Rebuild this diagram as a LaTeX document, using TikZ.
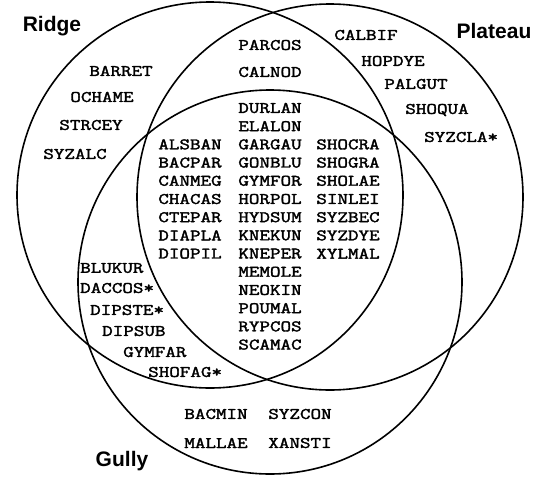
\documentclass[tikz,border=0pt]{standalone}
\usepackage{fontspec}
\setmainfont{Liberation Sans}
\newfontfamily\courf{Latin Modern Mono}[FakeStretch=1.28,FakeBold=2.2]
\begin{document}
\begin{tikzpicture}[x=1pt,y=-1pt,
  setcircle/.style={circle, draw, line width=1.6pt, inner sep=0pt, minimum size=#1},
  setname/.style={font=\fontsize{21}{24}\selectfont\bfseries, inner sep=0pt},
  sp/.style={font=\courf\fontsize{16}{18}\selectfont, inner sep=0pt}]
\useasboundingbox (0,0) rectangle (547,477);
\fill[white] (0,0) rectangle (547,477);
% circles
\node[setcircle=386pt] (ridge) at (210,195) {};
\node[setcircle=386pt] (plateau) at (330,197) {};
\node[setcircle=384pt] (gully) at (270,282) {};
% set names
\node[setname] (lridge) at (52,26) {Ridge};
\node[setname] (lplateau) at (494,31) {Plateau};
\node[setname] (lgully) at (122,461) {Gully};
% Ridge only
\node[sp] (barret) at (121,71) {BARRET};
\node[sp] (ochame) at (102,97) {OCHAME};
\node[sp] (strcey) at (91,125) {STRCEY};
\node[sp] (syzalc) at (75,154) {SYZALC};
% Ridge and Plateau
\node[sp] (parcos) at (270,45) {PARCOS};
\node[sp] (calnod) at (270,72) {CALNOD};
% Plateau only
\node[sp] (calbif) at (366,35) {CALBIF};
\node[sp] (hopdye) at (393,61) {HOPDYE};
\node[sp] (palgut) at (416,84) {PALGUT};
\node[sp] (shoqua) at (437,110) {SHOQUA};
\node[sp, anchor=west] (syzcla) at (424,137) {SYZCLA*};
% all three, middle column
\node[sp] (durlan) at (270,108) {DURLAN};
\node[sp] (elalon) at (270,126.2) {ELALON};
\node[sp] (gargau) at (270,144.4) {GARGAU};
\node[sp] (gonblu) at (270,162.6) {GONBLU};
\node[sp] (gymfor) at (270,180.8) {GYMFOR};
\node[sp] (horpol) at (270,199) {HORPOL};
\node[sp] (hydsum) at (270,217.2) {HYDSUM};
\node[sp] (knekun) at (270,235.4) {KNEKUN};
\node[sp] (kneper) at (270,253.6) {KNEPER};
\node[sp] (memole) at (270,271.8) {MEMOLE};
\node[sp] (neokin) at (270,290) {NEOKIN};
\node[sp] (poumal) at (270,308.2) {POUMAL};
\node[sp] (rypcos) at (270,326.4) {RYPCOS};
\node[sp] (scamac) at (270,344.6) {SCAMAC};
% all three, left column
\node[sp] (alsban) at (190,144.4) {ALSBAN};
\node[sp] (bacpar) at (190,162.6) {BACPAR};
\node[sp] (canmeg) at (190,180.8) {CANMEG};
\node[sp] (chacas) at (190,199) {CHACAS};
\node[sp] (ctepar) at (190,217.2) {CTEPAR};
\node[sp] (diapla) at (190,235.4) {DIAPLA};
\node[sp] (diopil) at (190,253.6) {DIOPIL};
% all three, right column
\node[sp] (shocra) at (348,144.4) {SHOCRA};
\node[sp] (shogra) at (348,162.6) {SHOGRA};
\node[sp] (sholae) at (348,180.8) {SHOLAE};
\node[sp] (sinlei) at (348,199) {SINLEI};
\node[sp] (syzbec) at (348,217.2) {SYZBEC};
\node[sp] (syzdye) at (348,235.4) {SYZDYE};
\node[sp] (xylmal) at (348,253.6) {XYLMAL};
% Ridge and Gully
\node[sp, anchor=west] (blukur) at (80,268) {BLUKUR};
\node[sp, anchor=west] (daccos) at (80,288) {DACCOS*};
\node[sp, anchor=west] (dipste) at (90,310) {DIPSTE*};
\node[sp, anchor=west] (dipsub) at (102,331) {DIPSUB};
\node[sp, anchor=west] (gymfar) at (123,352) {GYMFAR};
\node[sp, anchor=west] (shofag) at (148,372) {SHOFAG*};
% Gully only
\node[sp] (bacmin) at (216,414) {BACMIN};
\node[sp] (syzcon) at (300,414) {SYZCON};
\node[sp] (mallae) at (216,443) {MALLAE};
\node[sp] (xansti) at (300,443) {XANSTI};
\end{tikzpicture}
\end{document}
